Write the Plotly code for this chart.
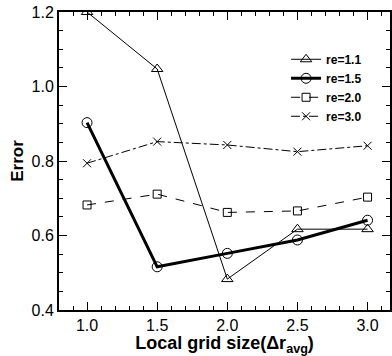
import plotly.graph_objects as go

x_vals = [1.0, 1.5, 2.0, 2.5, 3.0]
re11 = [1.200, 1.047, 0.483, 0.617, 0.617]
re15 = [0.903, 0.516, 0.552, 0.588, 0.641]
re20 = [0.682, 0.711, 0.662, 0.666, 0.703]
re30 = [0.794, 0.852, 0.843, 0.825, 0.841]
names = ["re=1.1", "re=1.5", "re=2.0", "re=3.0"]
x_ticks = [1.0, 1.5, 2.0, 2.5, 3.0]
y_ticks = [0.4, 0.6, 0.8, 1.0, 1.2]

FONT = "Liberation Sans, Arial"

fig = go.Figure()
styles = [
    (re11, 1, "solid", "triangle-up-open", 10),
    (re15, 3, "solid", "circle-open", 10),
    (re20, 1, "dash", "square-open", 8),
    (re30, 1, "dashdot", "x-thin-open", 8),
]
for name, (ys, w, dash, sym, ms) in zip(names, styles):
    fig.add_trace(go.Scatter(
        x=x_vals, y=ys, name=name, mode="lines+markers",
        line=dict(color="black", width=w, dash=dash),
        marker=dict(symbol=sym, size=ms, color="black",
                    line=dict(color="black", width=1)),
    ))

axis_common = dict(
    showline=True, linecolor="black", linewidth=2, mirror="ticks",
    ticks="inside", ticklen=8, tickwidth=1, tickcolor="black",
    showgrid=False, zeroline=False, automargin=False,
    tickfont=dict(family=FONT, size=16, color="black"),
)
fig.update_xaxes(
    range=[0.8, 3.16], tickvals=x_ticks, ticktext=[f"{v:.1f}" for v in x_ticks],
    minor=dict(dtick=0.1, ticks="inside", ticklen=4, tickcolor="black", showgrid=False),
    title=dict(text="<b>Local grid size(Δr<sub>avg</sub>)</b>", standoff=0,
               font=dict(family=FONT, size=18, color="black")),
    **axis_common,
)
fig.update_yaxes(
    range=[0.4, 1.2], tickvals=y_ticks, ticktext=[f"{v:.1f}" for v in y_ticks],
    minor=dict(dtick=0.05, ticks="inside", ticklen=4, tickcolor="black", showgrid=False),
    title=dict(text="<b>Error</b>", standoff=4,
               font=dict(family=FONT, size=17, color="black")),
    **axis_common,
)
fig.update_layout(
    width=392, height=356,
    margin=dict(l=59, r=2, t=12, b=46),
    paper_bgcolor="white", plot_bgcolor="white",
    legend=dict(x=0.686, y=0.89, xanchor="left", yanchor="top",
                bgcolor="rgba(0,0,0,0)", tracegroupgap=0,
                font=dict(family=FONT, size=12, color="black", weight="bold")),
    showlegend=True,
)
fig.write_html("out.html", config={"displayModeBar": False},
               post_script="document.body.style.margin='0';")
